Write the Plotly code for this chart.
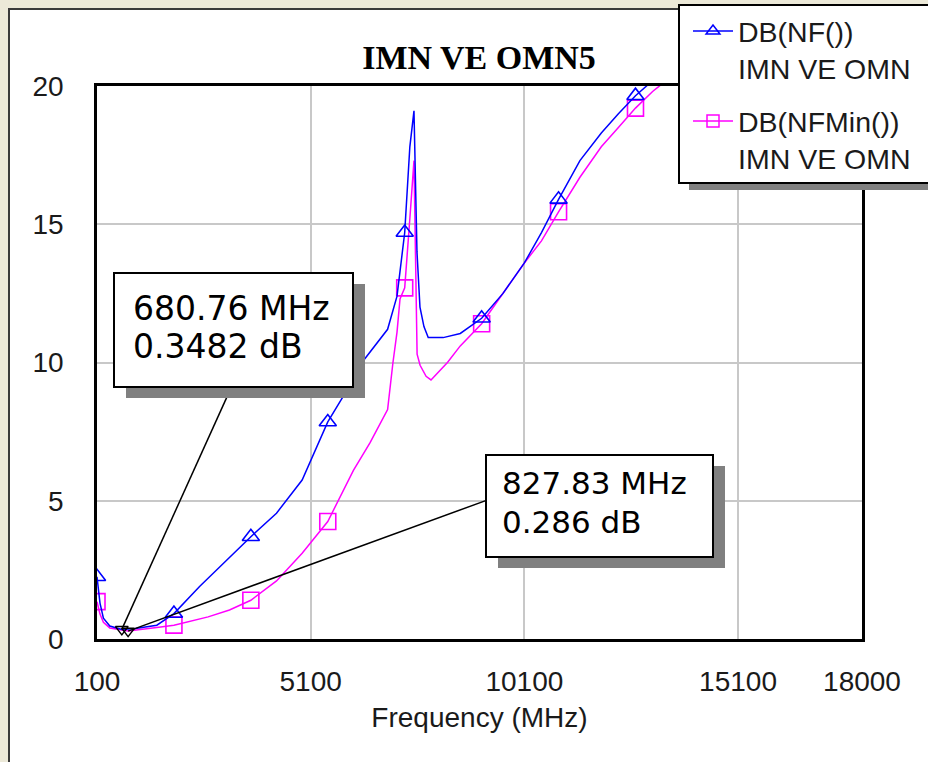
import plotly.graph_objects as go

# Noise figure (NF) and minimum noise figure (NFMin), dB versus frequency (MHz)
nf_freq = [100, 170, 250, 400, 680.76, 1000, 1500, 1900, 2500, 3100, 3700, 4300,
           4900, 5500, 5850, 6300, 6900, 7120, 7300, 7420, 7517, 7587, 7657, 7750,
           7850, 8200, 8600, 9100, 9600, 10100, 10500, 10900, 11400, 11900, 12300,
           12700, 13000, 13400]
nf_db = [2.25, 1.3, 0.75, 0.47, 0.3482, 0.38, 0.5, 0.92, 1.9, 2.8, 3.7, 4.55,
         5.75, 7.85, 8.75, 10.0, 11.2, 12.4, 14.7, 17.8, 19.1, 14.0, 12.0, 11.3,
         10.9, 10.9, 11.05, 11.6, 12.5, 13.6, 14.7, 15.9, 17.3, 18.3, 19.0,
         19.65, 20.05, 20.6]

nfmin_freq = [100, 170, 250, 400, 827.83, 1200, 1500, 1900, 2700, 3200, 3700, 4300,
              4900, 5500, 5850, 6100, 6490, 6900, 7025, 7120, 7190, 7300, 7420, 7517,
              7590, 7660, 7800, 7915, 8300, 8600, 9100, 9600, 10100, 10500, 10900,
              11400, 11900, 12300, 12700, 13100, 13500]
nfmin_db = [1.35, 0.9, 0.6, 0.4, 0.286, 0.35, 0.42, 0.5, 0.8, 1.05, 1.4, 2.1,
            3.1, 4.25, 5.3, 6.1, 7.1, 8.3, 10.0, 11.1, 12.3, 12.7, 15.2, 17.3,
            10.3, 9.9, 9.5, 9.37, 10.0, 10.6, 11.4, 12.5, 13.6, 14.4, 15.45,
            16.7, 17.8, 18.5, 19.2, 19.8, 20.3]

# Frequencies that carry a symbol on each trace
symbol_freqs = [100, 1900, 3700, 5500, 7300, 9100, 10900, 12700]

# Marker readouts (NF minimum, NFMin minimum)
mk_freq = [680.76, 827.83]
mk_db = [0.3482, 0.286]

x_ticks = [100, 5100, 10100, 15100, 18000]
y_ticks = [0, 5, 10, 15, 20]

series_names = ["DB(NF())<br>IMN VE OMN", "DB(NFMin())<br>IMN VE OMN"]

# ---- page geometry (pixels) ----
W, H = 928, 762
PL, PR, PT, PB = 97, 862, 86, 639
PW, PH = PR - PL, PB - PT


def px(x):
    return (x - PL) / PW


def py(y):
    return (PB - y) / PH


BLUE = "#0000FF"
PINK = "#FF00FF"
SANS = "Liberation Sans, Arial, sans-serif"
INK = "#1a1a1a"

fig = go.Figure()

styles = [
    dict(color=BLUE, symbol="triangle-up-open", size=15),
    dict(color=PINK, symbol="square-open", size=16),
]

# legend entries
for i, (name, st) in enumerate(zip(series_names, styles)):
    fig.add_trace(go.Scatter(
        x=[None], y=[None], mode="lines+markers", name=name,
        legendgroup=f"g{i}",
        line=dict(color=st["color"], width=1.5),
        marker=dict(symbol=st["symbol"], size=12, color=st["color"],
                    line=dict(width=1.5, color=st["color"])),
    ))

data = [(nfmin_freq, nfmin_db, styles[1]), (nf_freq, nf_db, styles[0])]
for fx, fy, st in data:
    fig.add_trace(go.Scatter(
        x=fx, y=fy, mode="lines", showlegend=False, hoverinfo="skip",
        line=dict(color=st["color"], width=1.5),
    ))
    sx = [f for f in fx if f in symbol_freqs]
    sy = [v for f, v in zip(fx, fy) if f in symbol_freqs]
    fig.add_trace(go.Scatter(
        x=sx, y=sy, mode="markers", showlegend=False,
        marker=dict(symbol=st["symbol"], size=st["size"], color=st["color"],
                    line=dict(width=1.6, color=st["color"])),
    ))

# marker points
fig.add_trace(go.Scatter(
    x=mk_freq, y=mk_db, mode="markers", showlegend=False,
    marker=dict(symbol="triangle-down-open", size=11, color="black",
                line=dict(width=1.5, color="black")),
))

shapes = []
# white panel with dark frame
shapes.append(dict(type="rect", xref="paper", yref="paper", layer="below",
                   x0=px(9), x1=px(960), y0=py(9), y1=py(800),
                   fillcolor="white", line=dict(color="#3a3a3a", width=2)))

# readout boxes: box pixels, shadow offset, leader end offset (pixels), font size
boxes = [
    dict(box=(114, 273, 353, 387), shadow=(12, 11), lead=(109, 241),
         text=((131, 308), (131, 346)), size=33),
    dict(box=(486, 455, 713, 557), shadow=(12, 11), lead=(359, 131),
         text=((500, 483), (500, 522)), size=31),
]
for (f, v), b in zip(zip(mk_freq, mk_db), boxes):
    shapes.append(dict(type="line", xsizemode="pixel", ysizemode="pixel",
                       xref="x", yref="y", xanchor=f, yanchor=v,
                       x0=0, y0=0, x1=b["lead"][0], y1=b["lead"][1],
                       line=dict(color="black", width=1.5)))
for b in boxes:
    x0, y0, x1, y1 = b["box"]
    dx, dy = b["shadow"]
    shapes.append(dict(type="rect", xref="paper", yref="paper",
                       x0=px(x0 + dx), x1=px(x1 + dx), y0=py(y0 + dy), y1=py(y1 + dy),
                       fillcolor="#808080", line=dict(width=0)))
    shapes.append(dict(type="rect", xref="paper", yref="paper",
                       x0=px(x0), x1=px(x1), y0=py(y0), y1=py(y1),
                       fillcolor="white", line=dict(color="black", width=2)))

# legend frame
shapes.append(dict(type="rect", xref="paper", yref="paper",
                   x0=px(689), x1=px(960), y0=py(12), y1=py(190),
                   fillcolor="#808080", line=dict(width=0)))
shapes.append(dict(type="rect", xref="paper", yref="paper",
                   x0=px(679), x1=px(960), y0=py(5), y1=py(183),
                   fillcolor="white", line=dict(color="black", width=2)))

annotations = []
for (f, v), b in zip(zip(mk_freq, mk_db), boxes):
    lines = [f"{f:.2f} MHz", f"{v:g} dB"]
    for t, (tx, ty) in zip(lines, b["text"]):
        annotations.append(dict(xref="paper", yref="paper", x=px(tx), y=py(ty),
                                xanchor="left", yanchor="middle", showarrow=False,
                                text=t, font=dict(family="DejaVu Sans", size=b["size"],
                                                  color="black")))

fig.update_layout(
    width=W, height=H,
    margin=dict(l=PL, r=W - PR, t=PT, b=H - PB, autoexpand=False),
    paper_bgcolor="#ECE9D8",
    plot_bgcolor="white",
    title=dict(text="<b>IMN VE OMN5</b>", x=px(479), xref="paper",
               y=1 - 57 / H, yref="container", xanchor="center", yanchor="middle",
               font=dict(family="Liberation Serif, Times New Roman, serif",
                         size=34, color="black")),
    showlegend=True,
    legend=dict(x=px(688), y=py(6), xanchor="left", yanchor="top",
                bgcolor="rgba(0,0,0,0)", borderwidth=0, valign="top",
                itemwidth=40,
                font=dict(family=SANS, size=28.5, color=INK),
                tracegroupgap=13),
    shapes=shapes,
    annotations=annotations,
    font=dict(family=SANS, color=INK),
)

fig.update_xaxes(
    range=[100, 18000], tickvals=x_ticks, ticktext=[str(t) for t in x_ticks],
    showgrid=True, gridcolor="#C8C8C8", gridwidth=2,
    showline=True, linecolor="black", linewidth=2.5, mirror=True,
    ticks="", ticklabelstandoff=16, zeroline=False,
    tickfont=dict(family=SANS, size=28, color=INK),
    title=dict(text="Frequency (MHz)", standoff=12,
               font=dict(family=SANS, size=28, color=INK)),
)
fig.update_yaxes(
    range=[0, 20], tickvals=y_ticks,
    showgrid=True, gridcolor="#C8C8C8", gridwidth=2,
    showline=True, linecolor="black", linewidth=2.5, mirror=True,
    ticks="", ticklabelstandoff=25, zeroline=False,
    tickfont=dict(family=SANS, size=28, color=INK),
)

fig.write_html("out.html")
